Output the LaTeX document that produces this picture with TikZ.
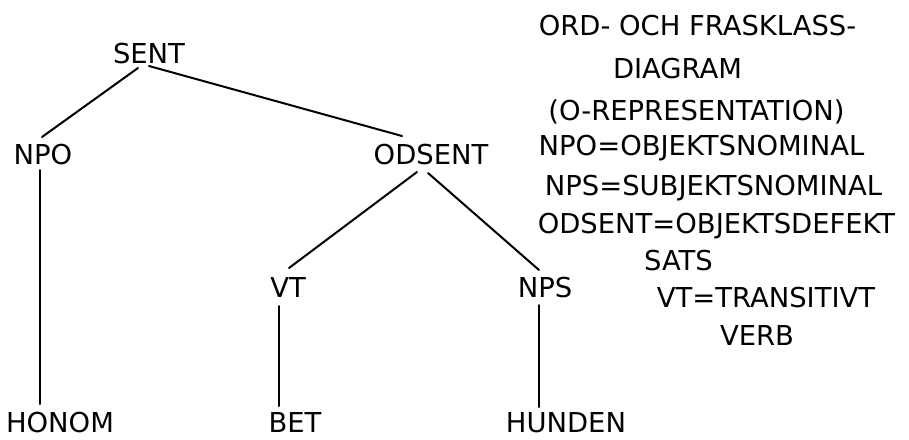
\documentclass[tikz,border=0pt]{standalone}
\usepackage{fontspec}
\newfontfamily\lbfont{DejaVu Sans}
\usetikzlibrary{calc}
\tikzset{
  lbl/.style={font=\lbfont\fontsize{27.4}{30}\selectfont, inner sep=0pt, anchor=base},
  edge/.style={line width=2pt, line cap=round, line join=round}
}
\begin{document}
\begin{tikzpicture}[x=1pt, y=-1pt]
\useasboundingbox (0,0) rectangle (909,439);
% tree nodes
\node[lbl] (sent)   at (149,63)  {SENT};
\node[lbl] (npo)    at (43,164)  {NPO};
\node[lbl] (odsent) at (431,164) {ODSENT};
\node[lbl] (vt)     at (288,297) {VT};
\node[lbl] (nps)    at (545,297) {NPS};
\node[lbl] (honom)  at (60,432)  {HONOM};
\node[lbl] (bet)    at (295,432) {BET};
\node[lbl] (hunden) at (566,432) {HUNDEN};
% connectors
\draw[edge] ($(sent.base)+(-11,5)$) -- ($(npo.base)+(-1,-27)$);
\draw[edge] ($(sent.base)+(0,3)$) -- ($(odsent.base)+(-29,-28)$);
\draw[edge] ($(npo.base)+(-3,6)$) -- ($(honom.base)+(-20,-28)$);
\draw[edge] ($(odsent.base)+(-14,8)$) -- ($(vt.base)+(1,-29)$);
\draw[edge] ($(odsent.base)+(-3,9)$) -- ($(nps.base)+(-6,-27)$);
\draw[edge] ($(vt.base)+(-9,9)$) -- ($(bet.base)+(-16,-26)$);
\draw[edge] ($(nps.base)+(-6,8)$) -- ($(hunden.base)+(-27,-25)$);
% legend
\node[lbl] (leg1) at (697.5,35)  {ORD- OCH FRASKLASS-};
\node[lbl] (leg2) at (677.5,78)  {DIAGRAM};
\node[lbl] (leg3) at (696.5,120) {(O-REPRESENTATION)};
\node[lbl] (leg4) at (701.5,155) {NPO=OBJEKTSNOMINAL};
\node[lbl] (leg5) at (713.5,195) {NPS=SUBJEKTSNOMINAL};
\node[lbl] (leg6) at (716.5,233) {ODSENT=OBJEKTSDEFEKT};
\node[lbl] (leg7) at (678.5,270) {SATS};
\node[lbl] (leg8) at (766,307)   {VT=TRANSITIVT};
\node[lbl] (leg9) at (757,345)   {VERB};
\end{tikzpicture}
\end{document}
